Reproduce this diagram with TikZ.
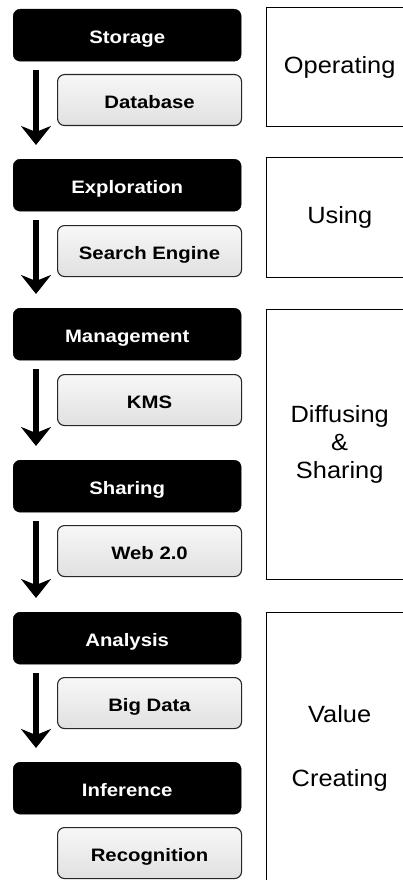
\documentclass[tikz,border=0pt]{standalone}
\usepackage{fontspec}
\usetikzlibrary{arrows.meta}
\newfontfamily\lblfont[FakeStretch=1.13]{Liberation Sans}
\newfontfamily\sidefont[FakeStretch=1.08]{Liberation Sans}
\begin{document}
\begin{tikzpicture}[x=1pt,y=-1pt,
  blackbox/.style={draw=black, fill=black, rounded corners=7pt, minimum width=228pt, minimum height=52pt,
    anchor=north west, inner sep=0pt, text height=17pt, text depth=0pt, text=white,
    font=\lblfont\bfseries\fontsize{18}{20}\selectfont},
  graybox/.style={draw=black!85, line width=1.1pt, top color=black!3, bottom color=black!12, rounded corners=7pt,
    minimum width=184pt, minimum height=51pt, anchor=north west, inner sep=0pt, text height=17pt, text depth=0pt,
    text=black, font=\lblfont\bfseries\fontsize{18}{20}\selectfont},
  sidebox/.style={draw=black, line width=1.4pt, fill=white, minimum width=146pt, anchor=north west,
    inner sep=0pt, align=center, font=\sidefont\fontsize{23.5}{28}\selectfont},
  flow/.style={line width=5.5pt, -{Stealth[length=19pt,width=30pt,inset=6pt]}}]
\path[use as bounding box] (0,0) rectangle (403,880);
\clip (0,0) rectangle (403,880);
% left column
\node[blackbox] (b1) at (13,9)   {Storage};
\node[graybox]  (g1) at (57,74)  {Database};
\node[blackbox] (b2) at (13,159) {Exploration};
\node[graybox]  (g2) at (57,225) {Search Engine};
\node[blackbox] (b3) at (13,308) {Management};
\node[graybox]  (g3) at (57,374) {KMS};
\node[blackbox] (b4) at (13,460) {Sharing};
\node[graybox]  (g4) at (57,525) {Web 2.0};
\node[blackbox] (b5) at (13,612) {Analysis};
\node[graybox]  (g5) at (57,677) {Big Data};
\node[blackbox] (b6) at (13,762) {Inference};
\node[graybox]  (g6) at (57,827) {Recognition};
% arrows
\foreach \a/\b in {b1/b2,b2/b3,b3/b4,b4/b5,b5/b6}
  \draw[flow] ([xshift=23pt,yshift=-9pt]\a.south west) -- ([xshift=23pt,yshift=14pt]\b.north west);
% right column
\node[sidebox, minimum height=119pt] (s1) at (266,7)   {Operating};
\node[sidebox, minimum height=120pt] (s2) at (266,157) {Using};
\node[sidebox, minimum height=270pt] (s3) at (266,309) {Diffusing\\\&\\Sharing};
\node[sidebox, minimum height=272pt] (s4) at (266,612) {Value\\[36pt]Creating};
\end{tikzpicture}
\end{document}
